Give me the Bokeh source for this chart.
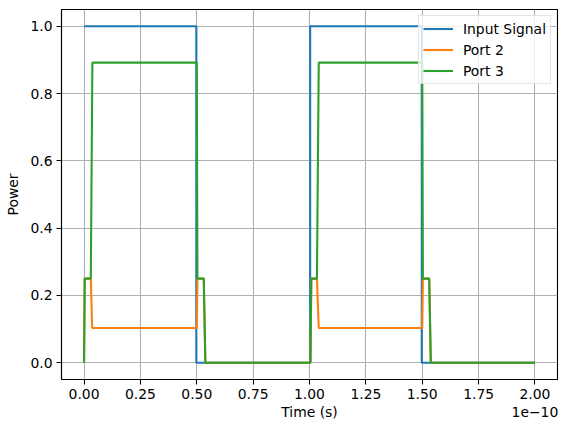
from bokeh.embed import file_html
from bokeh.models import FixedTicker, Legend, LegendItem, LinearAxis, Range1d
from bokeh.plotting import figure
from bokeh.resources import INLINE

# time in units of 1e-10 s
t_input = [0.0, 0.498, 0.498, 1.003, 1.003, 1.498, 1.498, 2.0]
p_input = [1.0, 1.0, 0.0, 0.0, 1.0, 1.0, 0.0, 0.0]

t_port2 = [0.0, 0.003, 0.030, 0.036, 0.500, 0.503, 0.531, 0.538,
           1.004, 1.008, 1.033, 1.041, 1.500, 1.503, 1.531, 1.538, 2.0]
p_port2 = [0.0, 0.25, 0.25, 0.103, 0.103, 0.25, 0.25, 0.0,
           0.0, 0.25, 0.25, 0.103, 0.103, 0.25, 0.25, 0.0, 0.0]

t_port3 = [0.0, 0.003, 0.030, 0.037, 0.500, 0.503, 0.531, 0.538,
           1.004, 1.008, 1.033, 1.041, 1.500, 1.503, 1.531, 1.538, 2.0]
p_port3 = [0.0, 0.25, 0.25, 0.892, 0.892, 0.25, 0.25, 0.0,
           0.0, 0.25, 0.25, 0.892, 0.892, 0.25, 0.25, 0.0, 0.0]

x_ticks = [0.0, 0.25, 0.5, 0.75, 1.0, 1.25, 1.5, 1.75, 2.0]
x_tick_labels = ["0.00", "0.25", "0.50", "0.75", "1.00", "1.25", "1.50", "1.75", "2.00"]
y_ticks = [0.0, 0.2, 0.4, 0.6, 0.8, 1.0]
y_tick_labels = ["0.0", "0.2", "0.4", "0.6", "0.8", "1.0"]

FONT = "DejaVu Sans"
FS = "13.9px"

p = figure(width=567, height=432,
           x_range=Range1d(-0.1, 2.1), y_range=Range1d(-0.05, 1.05),
           output_backend="svg", toolbar_location=None,
           min_border_left=61, min_border_right=10,
           min_border_top=9, min_border_bottom=53)

p.background_fill_color = "white"
p.border_fill_color = "white"
p.outline_line_color = "black"
p.outline_line_width = 1.1

# grid
for g in (p.xgrid, p.ygrid):
    g.grid_line_color = "#b0b0b0"
    g.grid_line_width = 1.1
p.xgrid.ticker = FixedTicker(ticks=x_ticks)
p.ygrid.ticker = FixedTicker(ticks=y_ticks)

# axes
p.xaxis.ticker = FixedTicker(ticks=x_ticks)
p.yaxis.ticker = FixedTicker(ticks=y_ticks)
p.xaxis.major_label_overrides = dict(zip(x_ticks, x_tick_labels))
p.yaxis.major_label_overrides = dict(zip(y_ticks, y_tick_labels))
p.yaxis.axis_label = "Power"
for ax in (p.xaxis, p.yaxis):
    ax.axis_line_color = "black"
    ax.axis_line_width = 1.1
    ax.major_tick_line_color = "black"
    ax.major_tick_line_width = 1.1
    ax.major_tick_out = 5
    ax.major_tick_in = 0
    ax.minor_tick_line_color = None
    ax.major_label_standoff = 4
    ax.major_label_text_font = FONT
    ax.major_label_text_font_size = FS
    ax.major_label_text_color = "black"
    ax.axis_label_text_font = FONT
    ax.axis_label_text_font_size = FS
    ax.axis_label_text_font_style = "normal"
    ax.axis_label_text_color = "black"
p.yaxis.axis_label_standoff = 6

# x label and the matplotlib style offset text share one row under the ticks
lab_axis = LinearAxis(ticker=FixedTicker(ticks=[1.0, 2.0]),
                      major_label_overrides={1.0: "Time (s)", 2.0: "1e\u221210"})
lab_axis.axis_line_color = None
lab_axis.major_tick_line_color = None
lab_axis.minor_tick_line_color = None
lab_axis.major_tick_out = 0
lab_axis.major_tick_in = 0
lab_axis.major_label_standoff = 2
lab_axis.major_label_text_font = FONT
lab_axis.major_label_text_font_size = FS
lab_axis.major_label_text_color = "black"
p.add_layout(lab_axis, "below")

# the lines
r1 = p.line(t_input, p_input, line_color="#1f77b4", line_width=2.1)
r2 = p.line(t_port2, p_port2, line_color="#ff7f0e", line_width=2.1)
r3 = p.line(t_port3, p_port3, line_color="#2ca02c", line_width=2.1)

legend = Legend(items=[LegendItem(label="Input Signal", renderers=[r1]),
                       LegendItem(label="Port 2", renderers=[r2]),
                       LegendItem(label="Port 3", renderers=[r3])],
                location="top_right")
legend.margin = 6
legend.padding = 4
legend.spacing = 4
legend.glyph_width = 30
legend.glyph_height = 17
legend.label_height = 17
legend.label_standoff = 10
legend.label_text_font = FONT
legend.label_text_font_size = FS
legend.label_text_color = "black"
legend.border_line_color = "#cccccc"
legend.background_fill_alpha = 0.8
p.add_layout(legend)

open("out.html", "w").write(file_html(p, INLINE))
